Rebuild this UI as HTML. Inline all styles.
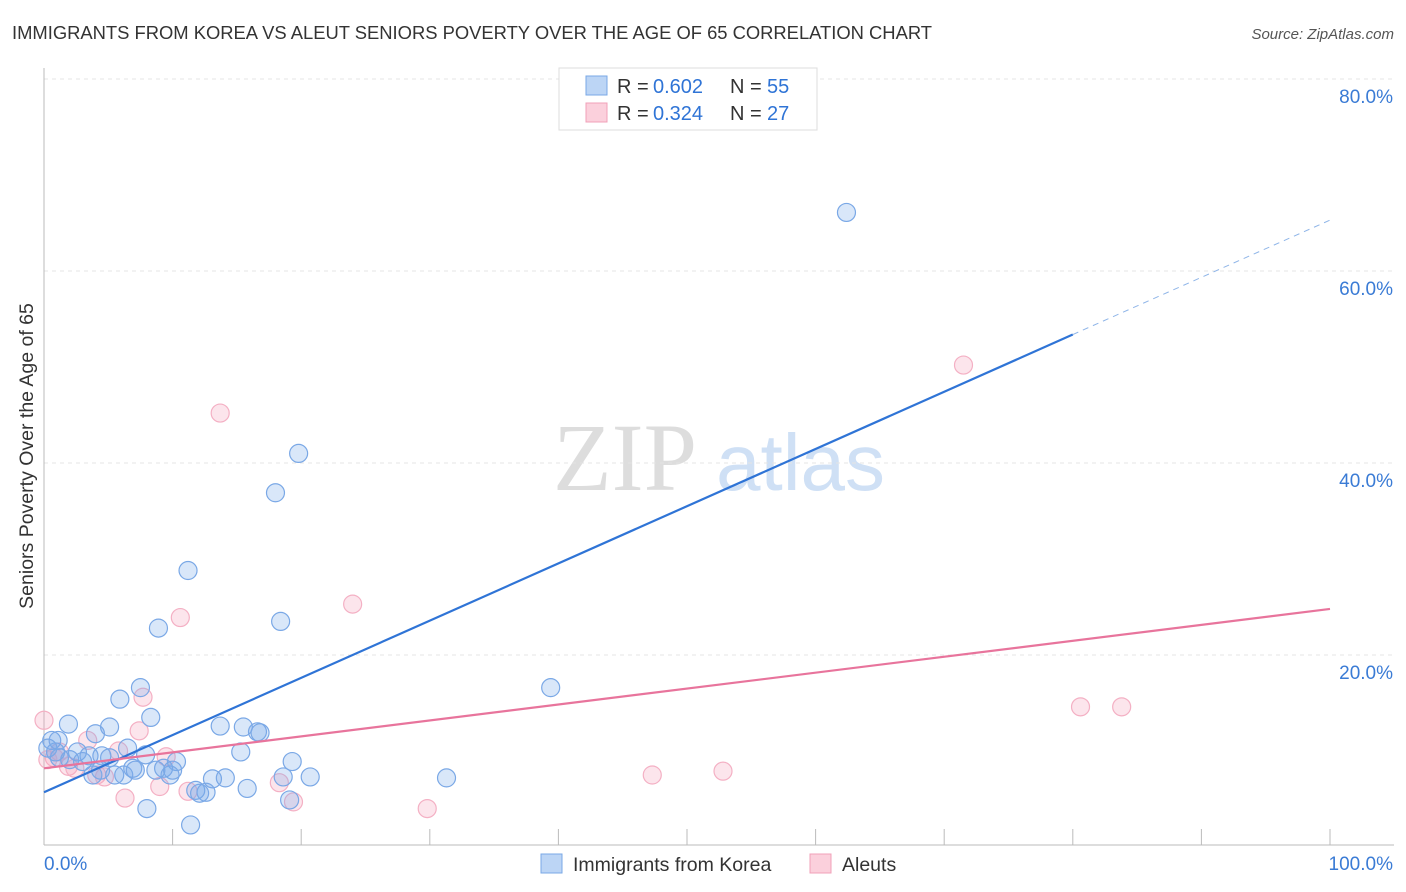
<!DOCTYPE html>
<html><head><meta charset="utf-8"><style>
body{margin:0;background:#fff;font-family:"Liberation Sans",sans-serif}
svg{display:block}
</style></head><body>
<svg width="1406" height="892" id="c">
<text x="12" y="39" font-size="18.4" fill="#333" textLength="920">IMMIGRANTS FROM KOREA VS ALEUT SENIORS POVERTY OVER THE AGE OF 65 CORRELATION CHART</text>
<text x="1394" y="39" font-size="15" fill="#555" font-style="italic" text-anchor="end">Source: ZipAtlas.com</text>
<text x="33" y="456" font-size="19.5" fill="#333" text-anchor="middle" transform="rotate(-90 33 456)">Seniors Poverty Over the Age of 65</text>
<g><text x="553" y="490" font-size="96" fill="#ddd" font-family="Liberation Serif,serif">ZIP</text><text x="716" y="490" font-size="80" fill="#cfe0f5">atlas</text></g>
<g id="grid"></g><g id="pts"></g><g id="lines"></g>
<g>
<rect x="559" y="68" width="258" height="62" fill="#fff" stroke="#ddd"/>
<rect x="586" y="76" width="21" height="19" fill="#bcd5f5" stroke="#7aa8e6"/>
<rect x="586" y="103" width="21" height="19" fill="#fbd0dc" stroke="#f0a0b8"/>
<text x="617" y="93" font-size="20" fill="#333">R =</text><text x="653" y="93" font-size="20" fill="#2f74d6">0.602</text>
<text x="730" y="93" font-size="20" fill="#333">N =</text><text x="767" y="93" font-size="20" fill="#2f74d6">55</text>
<text x="617" y="120" font-size="20" fill="#333">R =</text><text x="653" y="120" font-size="20" fill="#2f74d6">0.324</text>
<text x="730" y="120" font-size="20" fill="#333">N =</text><text x="767" y="120" font-size="20" fill="#2f74d6">27</text>
</g>
<g>
<rect x="541" y="854" width="21" height="19" fill="#bcd5f5" stroke="#7aa8e6"/>
<text x="573" y="871" font-size="19.5" fill="#333">Immigrants from Korea</text>
<rect x="810" y="854" width="21" height="19" fill="#fbd0dc" stroke="#f0a0b8"/>
<text x="842" y="871" font-size="19.5" fill="#333">Aleuts</text>
</g>
</svg>
<script>
const yTicks=[20,40,60,80];
const yTickLabels=["20.0%","40.0%","60.0%","80.0%"];
const xTickLabels=["0.0%","100.0%"];
const koreaX=[62.4,19.8,18.0,11.2,18.4,8.9,39.4,7.5,5.9,8.3,1.9,5.1,13.7,15.5,16.6,4.0,0.6,6.5,15.3,0.9,2.6,3.5,4.5,7.9,10.3,19.3,6.9,9.3,8.7,9.8,3.8,6.2,13.1,14.1,20.7,18.6,31.3,11.8,12.6,15.8,19.1,8.0,11.4,1.2,2.0,3.0,5.1,7.1,0.3,4.4,10.0,16.8,1.1,5.5,12.1];
const koreaY=[66.1,41.0,36.9,28.8,23.5,22.8,16.6,16.6,15.4,13.5,12.8,12.5,12.6,12.5,12.0,11.8,11.1,10.3,9.9,9.9,9.9,9.5,9.5,9.6,8.9,8.9,8.2,8.2,8.0,7.5,7.5,7.5,7.1,7.2,7.3,7.3,7.2,5.9,5.7,6.1,4.9,4.0,2.3,9.3,9.1,8.9,9.3,8.0,10.3,8.0,8.0,11.9,11.1,7.5,5.6];
const aleutX=[13.7,71.5,24.0,10.6,7.7,80.6,83.8,0,7.4,3.4,5.8,9.5,1.2,0.8,1.9,2.4,4.1,4.7,47.3,52.8,18.3,9.0,11.2,6.3,19.4,29.8,0.3];
const aleutY=[45.2,50.2,25.3,23.9,15.6,14.6,14.6,13.2,12.1,11.1,10.0,9.4,9.9,9.3,8.4,8.2,7.5,7.3,7.5,7.9,6.7,6.3,5.8,5.1,4.7,4.0,9.1];
const koreaFit=[5.7,0.596];
const aleutFit=[8.2,0.166];
const NS="http://www.w3.org/2000/svg";
const X=v=>44+v*12.86, Y=v=>847-v*9.6;
function mk(t,a,p){const e=document.createElementNS(NS,t);for(const k in a)e.setAttribute(k,a[k]);p.appendChild(e);return e;}
const svg=document.getElementById('c'),grid=document.getElementById('grid'),pts=document.getElementById('pts'),lines=document.getElementById('lines');
yTicks.forEach((t,i)=>{
 const l=mk('line',{x1:44,x2:1394,y1:Y(t),y2:Y(t),stroke:'#e4e4e4','stroke-dasharray':'4,4'},grid);
 
 
 const tx=mk('text',{x:1393,y:Y(t)+24,'font-size':19,fill:'#3a7bd5','text-anchor':'end'},grid);
 tx.textContent=yTickLabels[i];
 
 
});
mk('line',{x1:44,x2:44,y1:68,y2:845,stroke:'#bbb'},grid);
mk('line',{x1:44,x2:1394,y1:845,y2:845,stroke:'#bbb'},grid);
for(let i=1;i<=10;i++){const t=mk('line',{x1:X(i*10),x2:X(i*10),y1:829,y2:845,stroke:'#bbb'},grid);}
[[0,X(0),'start'],[1,X(100)+63,'end']].forEach(([i,x,a])=>{const t=mk('text',{x:x,y:870,'font-size':19,fill:'#3a7bd5','text-anchor':a},grid);t.textContent=xTickLabels[i];});
aleutX.forEach((v,i)=>{const c=mk('circle',{cx:X(v),cy:Y(aleutY[i]),r:9,fill:'rgba(244,160,185,0.28)',stroke:'#f4b0c4','stroke-width':1.2},pts);});
koreaX.forEach((v,i)=>{const c=mk('circle',{cx:X(v),cy:Y(koreaY[i]),r:9,fill:'rgba(120,170,235,0.28)',stroke:'#7aa8e6','stroke-width':1.2},pts);});
let l=mk('line',{x1:X(0),y1:Y(koreaFit[0]),x2:X(80),y2:Y(koreaFit[0]+koreaFit[1]*80),stroke:'#2f74d6','stroke-width':2.2},lines);

l=mk('line',{x1:X(80),y1:Y(koreaFit[0]+koreaFit[1]*80),x2:X(100),y2:Y(koreaFit[0]+koreaFit[1]*100),stroke:'#8fb5e8','stroke-width':1,'stroke-dasharray':'6,5'},lines);

l=mk('line',{x1:X(0),y1:Y(aleutFit[0]),x2:X(100),y2:Y(aleutFit[0]+aleutFit[1]*100),stroke:'#e8749c','stroke-width':2.2},lines);

</script>
</body></html>
